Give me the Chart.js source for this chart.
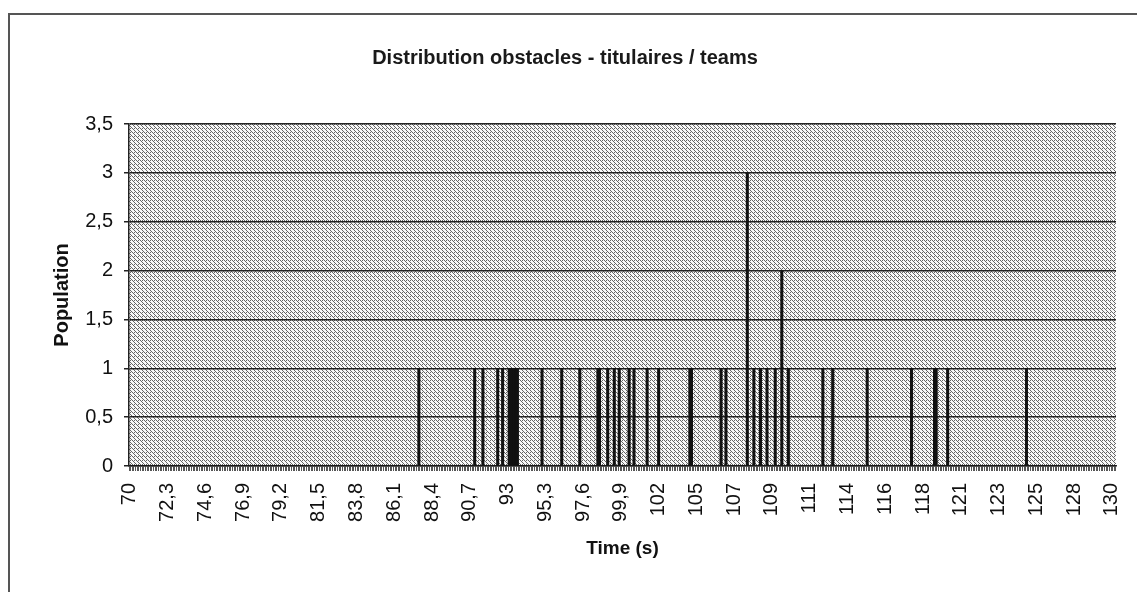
<!DOCTYPE html>
<html>
<head>
<meta charset="utf-8">
<script src="https://cdn.jsdelivr.net/npm/chart.js@4/dist/chart.umd.min.js"></script>
<style>
  html, body { margin: 0; padding: 0; background: #fff; overflow: hidden; }
  #wrap { position: relative; width: 1137px; height: 592px; }
  #frame { position: absolute; left: 8px; top: 13px; width: 2000px; height: 2000px;
           border-left: 2px solid #555; border-top: 2px solid #555; pointer-events: none; }
  canvas { position: absolute; left: 0; top: 0; }
</style>
</head>
<body>
<div id="wrap">
  <canvas id="c" width="1137" height="592"></canvas>
  <div id="frame"></div>
</div>
<script>
// ---- data ----
const chartTitle = "Distribution obstacles - titulaires / teams";
const xTitle = "Time (s)";
const yTitle = "Population";

// x axis: times from 70 to 130 s in 0.1 s steps (601 categories)
const timeStart = 70, timeEnd = 130, timeStep = 0.1;

// tick labels shown every 23 categories (as printed in the reference)
const tickLabels = ["70","72,3","74,6","76,9","79,2","81,5","83,8","86,1","88,4","90,7","93","95,3",
  "97,6","99,9","102","105","107","109","111","114","116","118","121","123","125","128","130"];
const tickEvery = 23;

// times (s) with a non-zero population, and the population at each
const obstacleTimes = [87.6, 91.0, 91.5, 92.4, 92.7, 93.1, 93.2, 93.3, 93.4, 93.5, 93.6,
  95.1, 96.3, 97.4, 98.5, 98.6, 99.1, 99.5, 99.8, 100.4, 100.7, 101.5, 102.2,
  104.1, 104.2, 106.0, 106.3, 107.6, 108.0, 108.4, 108.8, 109.3, 109.7, 110.1,
  112.2, 112.8, 114.9, 117.6, 119.0, 119.1, 119.8, 124.6];
const obstacleCounts = [1, 1, 1, 1, 1, 1, 1, 1, 1, 1, 1,
  1, 1, 1, 1, 1, 1, 1, 1, 1, 1, 1, 1,
  1, 1, 1, 1, 3, 1, 1, 1, 1, 2, 1,
  1, 1, 1, 1, 1, 1, 1, 1];

// ---- build the category table and values ----
const nCat = Math.round((timeEnd - timeStart) / timeStep) + 1;
const categories = [];
for (let i = 0; i < nCat; i++) categories.push((timeStart * 10 + i) / 10);
const population = new Array(nCat).fill(0);
obstacleTimes.forEach((t, k) => {
  const idx = Math.round((t - timeStart) / timeStep);
  population[idx] = obstacleCounts[k];
});

// ---- hatched plot background ----
function makePattern(ctx) {
  const p = document.createElement('canvas');
  p.width = 4; p.height = 4;
  const g = p.getContext('2d');
  g.fillStyle = '#f8f8f8';
  g.fillRect(0, 0, 4, 4);
  g.fillStyle = '#666';
  [[0,0],[1,1],[2,2],[3,3],[2,0]].forEach(([x,y]) => g.fillRect(x, y, 1, 1));
  return ctx.createPattern(p, 'repeat');
}
const bgPlugin = {
  id: 'hatchBg',
  beforeDraw(chart) {
    const {ctx, chartArea: a} = chart;
    ctx.save();
    ctx.fillStyle = makePattern(ctx);
    ctx.fillRect(a.left, a.top, a.right - a.left, a.bottom - a.top);
    ctx.restore();
  }
};

const FONT = "'Liberation Sans', Arial, sans-serif";

new Chart(document.getElementById('c'), {
  type: 'bar',
  data: {
    labels: categories,
    datasets: [{
      data: population,
      backgroundColor: '#111',
      borderWidth: 0,
      barPercentage: 1,
      categoryPercentage: 1,
      barThickness: 2.4
    }]
  },
  options: {
    responsive: false,
    animation: false,
    layout: { padding: { left: 14, right: 21, top: 0, bottom: 0 } },
    plugins: {
      legend: { display: false },
      tooltip: { enabled: false },
      title: {
        display: true,
        text: chartTitle,
        color: '#1a1a1a',
        font: { family: FONT, size: 20, weight: 'bold' },
        padding: { top: 46, bottom: 54 }
      }
    },
    scales: {
      y: {
        min: 0, max: 3.5,
        afterFit(s) { s.width = 115; },
        ticks: {
          stepSize: 0.5,
          color: '#111',
          padding: 11,
          font: { family: FONT, size: 20 },
          callback: v => String(v).replace('.', ',')
        },
        grid: { color: '#222', lineWidth: 1.5, tickLength: 5 },
        border: { display: true, color: '#222', width: 1.5 },
        title: {
          display: true, text: yTitle, color: '#111',
          font: { family: FONT, size: 20, weight: 'bold' },
          padding: { top: 36, bottom: 0 }
        }
      },
      x: {
        afterFit(s) { s.height = 126; s.paddingRight = 0; s.paddingLeft = 0; },
        ticks: {
          autoSkip: false,
          minRotation: 90, maxRotation: 90,
          color: '#111',
          padding: 12,
          font: { family: FONT, size: 20 },
          callback: (v, i) => (i % tickEvery === 0 ? tickLabels[i / tickEvery] : '')
        },
        grid: { display: true, drawOnChartArea: false, color: '#555', lineWidth: 1, tickLength: 5 },
        border: { display: true, color: '#222', width: 1.5 },
        title: {
          display: true, text: xTitle, color: '#111',
          font: { family: FONT, size: 19, weight: 'bold' },
          padding: { top: 0, bottom: 32 }
        }
      }
    }
  },
  plugins: [bgPlugin]
});
</script>
</body>
</html>
